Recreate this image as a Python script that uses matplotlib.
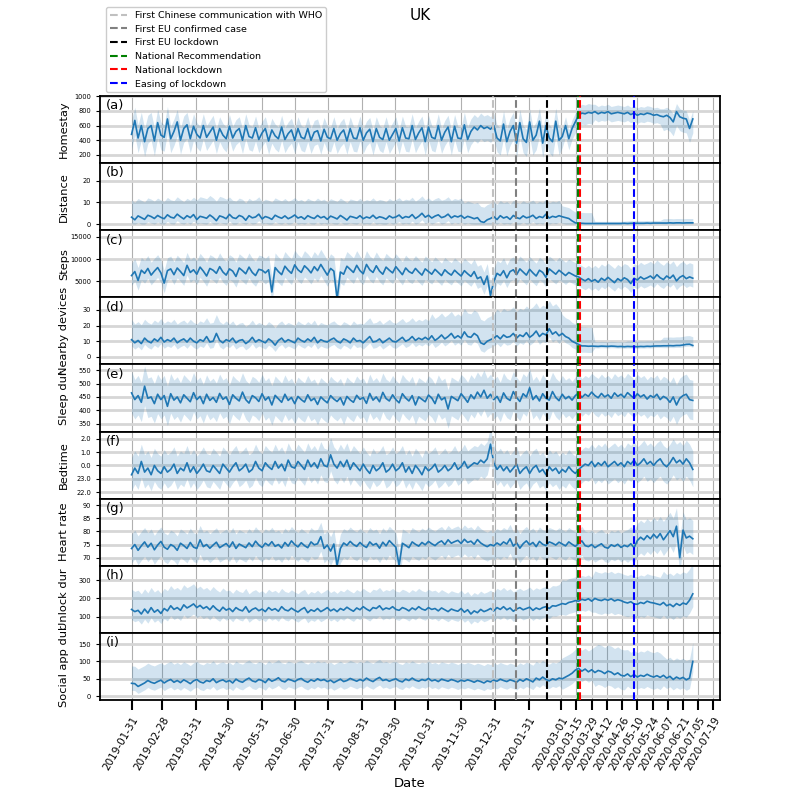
import matplotlib
matplotlib.use('Agg')
import matplotlib.pyplot as plt
import matplotlib.dates as mdates
import numpy as np
import pandas as pd

# daily averages sampled every 3 days, 2019-01-31 .. 2020-06-30
start_date = '2019-01-31'
n_points = 173

homestay = [
    480, 670, 430, 600, 380, 560, 600, 390, 640, 470,
    440, 690, 420, 520, 650, 400, 560, 610, 420, 590,
    480, 430, 600, 440, 510, 580, 400, 560, 470, 420,
    590, 430, 520, 560, 400, 600, 450, 430, 570, 410,
    500, 560, 390, 540, 460, 420, 580, 410, 490, 540,
    400, 560, 440, 420, 560, 400, 510, 530, 390, 550,
    440, 420, 560, 400, 490, 540, 390, 560, 430, 420,
    570, 400, 500, 550, 380, 560, 440, 410, 560, 400,
    480, 560, 390, 570, 430, 420, 600, 410, 500, 570,
    380, 580, 440, 420, 600, 400, 510, 580, 380, 590,
    430, 420, 610, 410, 520, 580, 540, 600, 560, 580,
    550, 600, 430, 390, 620, 380, 520, 600, 360, 640,
    420, 370, 650, 400, 470, 660, 360, 600, 430, 380,
    660, 400, 450, 600, 420, 560, 650, 740, 770, 760,
    780, 770, 790, 760, 780, 770, 790, 760, 770, 780,
    770, 760, 780, 750, 770, 740, 760, 750, 770, 760,
    740, 750, 730, 720, 740, 710, 650, 790, 720, 700,
    690, 560, 690]

distance = [
    3.2, 2.0, 3.8, 3.0, 2.2, 4.1, 3.5, 2.6, 4.0, 3.1,
    2.5, 4.3, 3.2, 2.8, 4.6, 3.4, 2.4, 3.9, 3.0, 4.4,
    2.1, 3.6, 3.2, 2.7, 4.2, 3.1, 1.6, 3.8, 3.3, 2.5,
    4.5, 3.0, 2.6, 4.0, 3.4, 1.8, 3.9, 2.9, 3.3, 4.6,
    2.4, 3.5, 3.0, 2.2, 4.1, 3.3, 2.7, 3.8, 2.5, 3.2,
    4.2, 2.8, 3.4, 2.3, 3.9, 3.1, 2.6, 4.0, 2.9, 3.5,
    2.2, 3.7, 3.1, 2.4, 4.0, 3.0, 1.9, 3.6, 3.2, 2.7,
    3.9, 2.5, 3.3, 2.8, 4.1, 2.6, 3.4, 3.0, 2.3, 3.8,
    2.9, 3.3, 4.2, 2.7, 3.5, 3.1, 4.4, 2.6, 3.6, 5.0,
    3.2, 4.1, 2.8, 3.7, 4.3, 3.0, 3.5, 4.6, 2.9, 3.8,
    3.3, 4.0, 2.7, 3.6, 3.1, 2.5, 3.0, 1.2, 0.8, 2.0,
    2.6, 3.5, 2.1, 3.9, 2.8, 3.4, 2.2, 4.0, 3.0, 2.5,
    3.8, 2.9, 3.3, 4.1, 2.6, 3.5, 3.0, 4.6, 2.8, 3.6,
    3.2, 3.9, 3.4, 3.0, 2.6, 1.5, 0.6, 0.4, 0.4, 0.3,
    0.3, 0.3, 0.3, 0.3, 0.3, 0.3, 0.3, 0.3, 0.3, 0.3,
    0.3, 0.4, 0.3, 0.4, 0.4, 0.4, 0.4, 0.4, 0.5, 0.4,
    0.5, 0.5, 0.5, 0.5, 0.5, 0.6, 0.5, 0.6, 0.6, 0.5,
    0.6, 0.6, 0.6]

steps = [
    6300, 7200, 5200, 7500, 6800, 7900, 6400, 7300, 8100, 6900,
    4600, 7400, 7800, 6500, 8000, 7200, 6300, 8600, 7000, 7600,
    6600, 8200, 7300, 6200, 7900, 7500, 6800, 8300, 7100, 6400,
    7800, 7300, 6100, 8000, 7400, 6700, 8200, 7000, 6300, 7700,
    7500, 6900, 7600, 2600, 8100, 7200, 6500, 8400, 7500, 6800,
    8700, 7600, 7000, 8500, 7800, 6900, 8300, 7400, 8800, 7600,
    6400, 7900, 7300, 1000, 7100, 6600, 8400, 7700, 7000, 8600,
    7400, 6700, 8800, 7600, 7000, 8500, 7300, 6600, 8200, 7500,
    6900, 8300, 7400, 6500, 8000, 7200, 6800, 7900, 7100, 6400,
    7800, 7200, 6600, 7700, 7000, 6300, 7600, 6900, 6400, 7500,
    6800, 6200, 7400, 6700, 6100, 7200, 5600, 6000, 4300, 6200,
    1800, 5000, 6800, 6300, 7400, 5800, 7200, 7600, 6500, 7800,
    7100, 6400, 7700, 6900, 6200, 7500, 7000, 5900, 7800, 7200,
    6600, 7500, 6900, 6300, 7000, 6600, 6200, 6000, 5500, 5100,
    5600, 5000, 5400, 4800, 5700, 5200, 5900, 5300, 4700, 5600,
    5100, 5800, 5400, 4500, 5700, 5300, 6000, 5500, 5800, 6200,
    5600, 6500, 5800, 5400, 6200, 5700, 6400, 5100, 5900, 6300,
    5600, 6000, 5700]

nearby = [
    11, 9, 10.5, 8.5, 12, 10, 9, 11.5, 10, 12.5,
    9.5, 11, 10, 12, 9, 10.5, 11.5, 9.5, 12, 10,
    9, 11, 10, 13, 9.5, 10, 15, 10.5, 9, 11,
    10, 12, 9, 10.5, 11, 8.5, 10, 12.5, 9.5, 11,
    10, 9, 11.5, 10, 7.5, 10.5, 12, 9.5, 11, 10,
    9, 12, 10.5, 9.5, 11.5, 10, 12.5, 9, 11, 10,
    9.5, 11, 12, 10, 9, 11.5, 10.5, 9, 12, 10,
    10.5, 9, 11, 13, 9.5, 10, 11.5, 9, 10.5, 12,
    10, 9.5, 11, 12.5, 10, 11, 13, 10.5, 12, 11,
    12.5, 11, 13.5, 10.5, 12, 14, 11.5, 13, 15, 12,
    13.5, 12, 16, 13, 12.5, 15, 13.5, 9, 8, 10,
    11, 12, 13.5, 11.5, 14, 12.5, 13, 15, 12, 14,
    13, 15.5, 12.5, 14, 16.5, 13, 15, 14, 18, 14.5,
    16, 13.5, 15, 13, 12, 10, 9, 8, 7, 7,
    6.8, 6.9, 6.8, 6.7, 6.9, 6.8, 6.7, 6.9, 6.8, 6.6,
    6.7, 6.5, 6.7, 6.6, 6.6, 6.5, 6.7, 6.6, 6.8, 6.7,
    6.9, 7.0, 7.0, 7.1, 7.1, 7.2, 7.1, 7.3, 7.3, 7.6,
    8.0, 8.1, 7.3]

sleep = [
    465, 440, 455, 430, 490, 445, 450, 425, 460, 440,
    455, 415, 462, 438, 450, 428, 458, 445, 432, 466,
    440, 452, 425, 460, 437, 448, 430, 463, 441, 450,
    422, 458, 445, 435, 468, 440, 427, 455, 447, 433,
    462, 438, 450, 420, 456, 443, 430, 460, 437, 448,
    425, 452, 440, 431, 458, 436, 445, 422, 450, 438,
    428, 455, 442, 433, 447, 420, 452, 439, 430, 456,
    441, 448, 426, 463, 438, 450, 432, 467, 444, 435,
    458, 440, 428, 462, 446, 435, 455, 420, 450, 441,
    432, 457, 446, 425, 460, 439, 448, 405, 452, 444,
    436, 462, 447, 430, 458, 443, 468, 450, 475, 445,
    460, 440, 452, 430, 465, 445, 437, 470, 448, 433,
    462, 450, 484, 440, 455, 435, 462, 445, 438, 470,
    448, 436, 460, 443, 452, 438, 455, 465, 448, 460,
    452, 468, 455, 447, 463, 450, 458, 445, 465, 452,
    460, 448, 466, 455, 445, 462, 450, 458, 442, 455,
    448, 460, 440, 452, 445, 430, 450, 420, 445, 455,
    460, 440, 437]

# bedtime in hours relative to midnight
bedtime = [
    -0.7, -0.2, -0.6, 0.3, -0.5, -0.2, -0.7, 0.0, -0.4, -0.6,
    -0.1, -0.5, -0.3, 0.1, -0.6, -0.2, -0.4, 0.2, -0.5, -0.1,
    -0.6, -0.3, 0.1, -0.4, -0.5, 0.0, -0.3, -0.6, 0.1, -0.2,
    -0.5, -0.1, 0.2, -0.4, -0.2, 0.1, -0.5, -0.3, 0.3, -0.2,
    -0.4, 0.2, -0.1, -0.3, 0.3, -0.2, 0.1, -0.4, 0.4, -0.1,
    -0.2, 0.3, 0.0, -0.3, 0.4, -0.1, 0.2, -0.2, 0.5, 0.0,
    -0.1, 0.8, 0.1, -0.2, 0.3, -0.1, 0.4, -0.3, 0.2, -0.1,
    -0.4, 0.1, -0.3, -0.6, 0.0, -0.4, -0.2, 0.2, -0.5, -0.3,
    0.1, -0.4, -0.2, 0.2, -0.5, -0.1, -0.6, 0.0, -0.3, -0.7,
    -0.1, -0.4, -0.2, 0.1, -0.5, -0.3, 0.0, -0.4, -0.2, 0.2,
    -0.3, -0.1, 0.3, -0.2, 0.0, 0.2, 0.1, 0.4, 0.2, 0.5,
    1.6, 0.2, -0.3, 0.0, -0.4, -0.1, -0.5, -0.2, 0.1, -0.6,
    -0.3, -0.1, -0.6, -0.2, 0.0, -0.5, -0.3, -0.7, -0.1, -0.4,
    -0.2, -0.6, -0.3, -0.5, -0.1, -0.4, -0.6, -0.3, -0.1, 0.1,
    0.0, 0.3, -0.1, 0.2, 0.0, 0.3, -0.1, 0.1, 0.3, 0.0,
    0.2, -0.1, 0.3, 0.1, 0.4, 0.0, 0.2, 0.5, 0.1, 0.3,
    0.0, 0.3, 0.5, 0.1, -0.1, 0.2, 0.6, 0.2, 0.4, 0.1,
    0.5, 0.2, -0.3]

heart = [
    73.5, 75, 72.8, 74.5, 76, 74, 75.5, 73, 74.8, 76.2,
    74, 73.2, 75, 74.3, 72.8, 75.5, 74.6, 73.5, 75.8, 74,
    73.5, 76.8, 74.2, 75, 73.6, 74.8, 75.9, 73.8, 74.6, 75.4,
    74, 76, 73.5, 75.2, 74.5, 73.8, 75.6, 74.2, 76.3, 74.8,
    73.9, 75.5, 74.6, 76.1, 74.3, 75, 73.7, 75.8, 74.4, 76.4,
    75, 74.1, 75.7, 74.6, 73.8, 76, 74.9, 75.3, 78, 73.5,
    74.8, 72.5, 75.2, 67, 73.5, 75.6, 74.7, 76.2, 75, 74.3,
    75.8, 74.6, 73.9, 76, 74.8, 75.4, 73.6, 75.9, 74.5, 76.5,
    75.2, 74, 67, 75.5, 74.7, 73.8, 76, 75.1, 74.4, 75.8,
    74.9, 76.2, 75.3, 74.6, 75.7, 76.4, 75, 76.8, 75.5, 76.1,
    76.6, 75.4, 77, 75.8, 76.3, 75.1, 76.9, 75.6, 74.8, 74.2,
    75, 74.5, 75.6, 74.8, 76, 75.2, 77.2, 74.4, 75.7, 73.6,
    75.3, 76.4, 74.9, 75.8, 74.2, 76.2, 75.1, 74.6, 76, 75.5,
    74.8, 75.9, 75.2, 74.5, 76, 75.1, 74.3, 75.4, 76.4, 74.6,
    74.2, 75, 73.8, 74.6, 75.3, 74, 73.6, 74.9, 74.3, 75.1,
    73.9, 74.7, 74.2, 75.3, 73.8, 76.5, 77.8, 76.8, 78.4, 77.2,
    78.9, 77.5, 79.2, 76.8, 78.5, 80.3, 78, 82, 70, 80.5,
    77.5, 78.2, 77.2]

unlock = [
    140, 128, 135, 115, 142, 120, 150, 125, 138, 118,
    145, 132, 160, 140, 150, 135, 165, 148, 158, 170,
    150, 162, 145, 155, 138, 160, 142, 130, 152, 136,
    145, 128, 150, 138, 132, 155, 125, 140, 148, 133,
    142, 128, 150, 136, 144, 130, 155, 138, 132, 147,
    135, 126, 140, 150, 122, 138, 130, 145, 128, 138,
    150, 132, 142, 128, 145, 136, 152, 140, 130, 148,
    138, 155, 142, 132, 150, 145, 160, 138, 148, 142,
    155, 140, 135, 150, 143, 132, 148, 138, 155, 142,
    136, 150, 140, 145, 132, 148, 138, 128, 142, 135,
    130, 145, 125, 138, 115, 132, 122, 140, 128, 135,
    145, 132, 150, 140, 155, 138, 148, 130, 142, 150,
    138, 145, 152, 135, 148, 140, 150, 155, 145, 160,
    158, 165, 172, 168, 178, 182, 188, 185, 195, 190,
    198, 185, 200, 192, 188, 196, 190, 198, 186, 193,
    188, 180, 175, 182, 170, 168, 178, 172, 185, 178,
    175, 170, 165, 178, 160, 168, 155, 172, 162, 175,
    168, 190, 225]

social = [
    37, 36, 28, 33, 38, 45, 40, 37, 42, 46,
    38, 44, 48, 40, 45, 39, 47, 42, 36, 44,
    48, 41, 38, 45, 42, 50, 39, 44, 47, 41,
    45, 38, 49, 43, 40, 47, 52, 44, 41, 48,
    45, 39, 50, 43, 47, 53, 44, 41, 49, 46,
    42, 48, 51, 44, 40, 47, 43, 50, 45, 48,
    42, 46, 39, 44, 49, 42, 45, 51, 47, 43,
    48, 44, 52, 46, 42, 49, 54, 45, 48, 43,
    47, 50, 44, 41, 49, 45, 52, 46, 43, 48,
    45, 51, 44, 47, 42, 49, 46, 43, 48, 45,
    41, 46, 43, 47, 44, 40, 45, 42, 38, 44,
    41, 46, 43, 49, 45, 42, 47, 44, 40, 48,
    43, 50, 46, 41, 52, 47, 55, 48, 44, 50,
    47, 52, 50, 55, 60, 66, 75, 80, 72, 78,
    70, 76, 68, 74, 71, 65, 72, 69, 62, 67,
    60, 58, 64, 56, 62, 55, 60, 57, 63, 58,
    55, 59, 54, 60, 52, 57, 48, 55, 50, 54,
    47, 52, 100]

# spread below / above the mean, one value per month (2019-01 .. 2020-06)
homestay_lo = [200, 200, 190, 180, 180, 180, 180, 180, 180, 180, 180, 180, 190, 200, 150, 110, 110, 190]
homestay_hi = [190, 180, 170, 160, 160, 160, 160, 160, 160, 160, 160, 170, 180, 180, 120, 100, 100, 110]
distance_lo = [3, 3, 3, 3, 3, 3, 3, 3, 3, 3, 3, 3, 3, 3, 3, 0.3, 0.3, 0.4]
distance_hi = [8, 8, 8, 9, 8, 8, 8, 8, 8, 8, 8, 7, 7, 7, 5, 1.0, 1.2, 2.0]
steps_lo = [2200, 2200, 2200, 2300, 2400, 2500, 2500, 2500, 2400, 2300, 2200, 2200, 2200, 2200, 2000, 1900, 2000, 2000]
steps_hi = [2800, 2900, 2900, 3100, 3200, 3300, 3400, 3300, 3100, 2900, 2800, 2800, 2900, 2900, 3000, 3200, 3300, 3200]
nearby_lo = [4, 4, 4, 4, 4, 4, 4, 4, 4, 4, 4.5, 5, 5, 5, 4, 1.0, 1.0, 1.2]
nearby_hi = [13, 12, 12, 12, 11, 11, 11, 11, 12, 12, 14, 15, 17, 18, 12, 3, 3.5, 5.5]
sleep_lo = [75, 72, 72, 72, 72, 75, 75, 72, 72, 72, 72, 72, 72, 72, 70, 72, 72, 72]
sleep_hi = [80, 75, 75, 72, 72, 72, 72, 72, 72, 72, 72, 75, 75, 72, 70, 72, 72, 75]
bedtime_lo = [1.2, 1.2, 1.2, 1.2, 1.2, 1.2, 1.2, 1.2, 1.2, 1.2, 1.2, 1.2, 1.2, 1.2, 1.2, 1.3, 1.3, 1.3]
bedtime_hi = [1.3, 1.3, 1.3, 1.3, 1.3, 1.3, 1.3, 1.3, 1.3, 1.3, 1.3, 1.3, 1.3, 1.3, 1.3, 1.4, 1.4, 1.4]
heart_lo = [5.5, 5.5, 5.5, 5.5, 5.5, 5.5, 5.5, 5.5, 5.5, 5.5, 5.5, 5.5, 5.5, 5.5, 5.5, 5.5, 6, 6]
heart_hi = [5.5, 5.5, 5.5, 5.5, 5.5, 5.5, 5.5, 5.5, 5.5, 5.5, 5.5, 5.5, 5.5, 5.5, 5.5, 5.5, 6.5, 7]
unlock_lo = [55, 55, 55, 55, 55, 55, 55, 55, 55, 55, 55, 55, 55, 55, 60, 75, 75, 70]
unlock_hi = [110, 110, 110, 105, 100, 100, 100, 100, 100, 100, 100, 100, 105, 110, 130, 150, 150, 170]
social_lo = [20, 20, 22, 22, 22, 22, 22, 22, 22, 22, 22, 22, 22, 22, 30, 40, 35, 30]
social_hi = [50, 50, 52, 52, 52, 52, 52, 52, 52, 50, 50, 50, 48, 48, 60, 75, 70, 55]

# events
event_dates = ['2019-12-29', '2020-01-19', '2020-02-17', '2020-03-16', '2020-03-18', '2020-05-07']
event_labels = ['First Chinese communication with WHO', 'First EU confirmed case', 'First EU lockdown',
                'National Recommendation', 'National lockdown', 'Easing of lockdown']
event_colors = ['silver', 'grey', 'black', 'green', 'red', 'blue']

tick_dates = ['2019-01-31', '2019-02-28', '2019-03-31', '2019-04-30', '2019-05-31', '2019-06-30',
              '2019-07-31', '2019-08-31', '2019-09-30', '2019-10-31', '2019-11-30', '2019-12-31',
              '2020-01-31', '2020-03-01', '2020-03-15', '2020-03-29', '2020-04-12', '2020-04-26',
              '2020-05-10', '2020-05-24', '2020-06-07', '2020-06-21', '2020-07-05', '2020-07-19']

panels = [
    ('(a)', 'Homestay', homestay, homestay_lo, homestay_hi, (88, 1003), [200, 400, 600, 800, 1000]),
    ('(b)', 'Distance', distance, distance_lo, distance_hi, (-2.8, 28.1), [0, 10, 20]),
    ('(c)', 'Steps', steps, steps_lo, steps_hi, (1400, 16500), [5000, 10000, 15000]),
    ('(d)', 'Nearby devices', nearby, nearby_lo, nearby_hi, (-4.8, 38), [0, 10, 20, 30]),
    ('(e)', 'Sleep dur', sleep, sleep_lo, sleep_hi, (321, 571), [350, 400, 450, 500, 550]),
    ('(f)', 'Bedtime', bedtime, bedtime_lo, bedtime_hi, (-2.5, 2.55), [-2, -1, 0, 1, 2]),
    ('(g)', 'Heart rate', heart, heart_lo, heart_hi, (66.9, 92.5), [70, 75, 80, 85, 90]),
    ('(h)', 'Unlock dur', unlock, unlock_lo, unlock_hi, (12, 378), [100, 200, 300]),
    ('(i)', 'Social app dur', social, social_lo, social_hi, (-11, 182), [0, 50, 100, 150]),
]

dates = pd.date_range(start_date, periods=n_points, freq='3D')
month_idx = np.asarray((dates.year - 2019) * 12 + dates.month - 1)

fig, axes = plt.subplots(9, 1, figsize=(8, 8), dpi=100, sharex=True,
                         gridspec_kw={'hspace': 0})
fig.subplots_adjust(left=0.125, right=0.9, top=0.88, bottom=0.125)

handles = []
for k, (ax, (letter, name, vals, lo, hi, ylim, yt)) in enumerate(zip(axes, panels)):
    y = np.array(vals, dtype=float)
    lower = y - np.array(lo)[month_idx]
    upper = y + np.array(hi)[month_idx]
    if name in ('Distance', 'Nearby devices', 'Social app dur'):
        lower = np.maximum(lower, 0)
    ax.fill_between(dates, lower, upper, color='#1f77b4', alpha=0.2, lw=0)
    ax.plot(dates, y, color='#1f77b4', lw=1.2)

    handles = []
    for d, lab, c in zip(event_dates, event_labels, event_colors):
        h = ax.axvline(pd.Timestamp(d), color=c, ls='--', lw=1.5, label=lab, zorder=3)
        handles.append(h)

    ax.set_ylim(*ylim)
    ax.set_yticks(yt)
    if name == 'Bedtime':
        ax.set_yticklabels([f'{v % 24:.1f}' for v in yt])
    ax.tick_params(axis='y', labelsize=4.8, length=3)
    ax.set_ylabel(name, fontsize=8.2)
    ax.yaxis.set_label_coords(-0.05, 0.5)
    ax.text(0.01, 0.95, letter, transform=ax.transAxes, va='top', ha='left', fontsize=9.5)

    ax.grid(axis='x', color='#b0b0b0', lw=0.8)
    ax.grid(axis='y', color='#d6d6d6', lw=2)
    ax.set_axisbelow(True)
    for sp in ax.spines.values():
        sp.set_linewidth(1.3)
    if k < 8:
        ax.tick_params(axis='x', length=0)

ax = axes[-1]
ax.set_xlim(pd.Timestamp('2019-01-02'), pd.Timestamp('2020-07-25'))
ax.set_xticks([pd.Timestamp(t) for t in tick_dates])
ax.xaxis.set_major_formatter(mdates.DateFormatter('%Y-%m-%d'))
ax.tick_params(axis='x', labelsize=7.5, length=7, width=1.5, rotation=60)
for lab in ax.get_xticklabels():
    lab.set_ha('right')
    lab.set_rotation_mode('anchor')
ax.set_xlabel('Date', fontsize=9.5)

fig.legend(handles=handles, loc='upper left', bbox_to_anchor=(0.127, 0.997),
           fontsize=6.8, framealpha=1, handlelength=1.8)
fig.suptitle('UK', x=0.525, y=0.99, fontsize=11)

fig.savefig('out.png', dpi=100)
